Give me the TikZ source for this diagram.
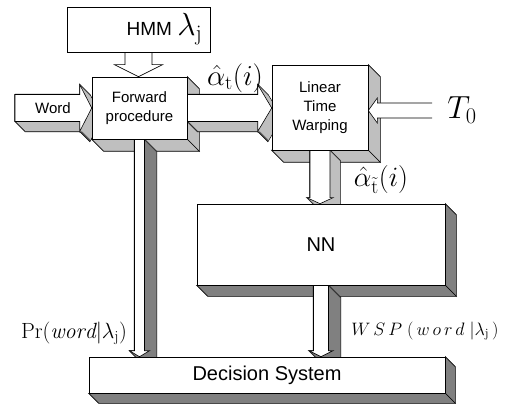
\RequirePackage{fix-cm}
\documentclass[tikz,border=0pt]{standalone}
\usepackage{fontspec}
\setsansfont{Liberation Sans}
\usetikzlibrary{calc}

\pgfdeclarelayer{background}
\pgfsetlayers{background,main}

\definecolor{lite}{gray}{0.75}
\definecolor{dark}{gray}{0.5}

\tikzset{
  blk/.style={draw, fill=white, line width=0.6pt, inner sep=0pt, align=center,
    font=\sffamily\fontsize{15}{19}\selectfont},
  big/.style={font=\sffamily\fontsize{20}{22}\selectfont}
}

% block arrows: from, tip, half shaft, half head, head length
\newcommand{\rightarr}[5]{($(#1)+(0,-#3)$) -- ($(#2)+(-#5,-#3)$) -- ($(#2)+(-#5,-#4)$) -- (#2) -- ($(#2)+(-#5,#4)$) -- ($(#2)+(-#5,#3)$) -- ($(#1)+(0,#3)$) -- cycle}
\newcommand{\downarr}[5]{($(#1)+(-#3,0)$) -- ($(#2)+(-#3,-#5)$) -- ($(#2)+(-#4,-#5)$) -- (#2) -- ($(#2)+(#4,-#5)$) -- ($(#2)+(#3,-#5)$) -- ($(#1)+(#3,0)$) -- cycle}
% extruded arrow: depth, side colour, path
\newcommand{\solid}[3]{%
  \foreach \k in {0,...,#1}{\begin{scope}[transform canvas={shift={(\k,\k)}}]
    \filldraw[black, line width=1.2pt, line join=round] #3;\end{scope}}
  \foreach \k in {0,...,#1}{\begin{scope}[transform canvas={shift={(\k,\k)}}]
    \fill[#2] #3;\end{scope}}
  \filldraw[fill=white, line width=0.6pt] #3;}

\begin{document}
\begin{tikzpicture}[x=1pt,y=-1pt]
\useasboundingbox (0,0) rectangle (515,404);

% blocks
\node[blk, minimum width=143, minimum height=45, font=\sffamily\fontsize{19}{21}\selectfont] (hmm) at (138.5,29.5)
  {\hspace*{52pt}HMM~{\fontsize{32}{34}\selectfont$\lambda_{\mathrm{j}}$}};
\node[blk, minimum width=95, minimum height=62] (fp) at (139.5,108) {Forward\\procedure};
\node[blk, minimum width=96, minimum height=85] (ltw) at (320,107.5) {Linear\\Time\\Warping};
\node[blk, big, minimum width=248, minimum height=81] (nn) at (321,244.5) {NN};
\node[blk, big, minimum width=356, minimum height=36] (ds) at (267,375) {Decision System};

% free ends
\coordinate (wd) at (15,108);
\coordinate (tz) at (432,110.5);

% labels
\node[font=\sffamily\fontsize{15}{17}\selectfont] (wordlab) at (53,108) {Word};
\node[font=\fontsize{29}{31}\selectfont, inner sep=0pt] (alab) at (235,78) {$\hat{\alpha}_{\mathrm{t}}(i)$};
\node[font=\fontsize{28}{30}\selectfont, inner sep=0pt] (blab) at (381,180) {$\hat{\alpha}_{\tilde{\mathrm{t}}}(i)$};
\node[font=\fontsize{32}{34}\selectfont, inner sep=0pt] (tlab) at (462,110) {$T_0$};
\node[font=\fontsize{22}{24}\selectfont, inner sep=0pt] (plab) at (74,333) {$\mathrm{Pr}\Bigl(\mathit{word}\big|\lambda_{\mathrm{j}}\Bigr)$};
\node[font=\fontsize{18}{20}\selectfont, inner sep=0pt] (slab) at (425,331) {$W\,S\,P\;(\,w\,o\,r\,d\;\Big|\lambda_{\mathrm{j}}\,)$};

\begin{pgfonlayer}{background}
% depth faces
\foreach \n/\d/\c in {fp/12/lite, ltw/12/lite, nn/11/dark, ds/10/dark}{
  \filldraw[fill=\c, line width=0.6pt] (\n.north east) -- ++(\d,\d) -- ($(\n.south east)+(\d,\d)$) -- (\n.south east) -- cycle;
  \filldraw[fill=\c, line width=0.6pt] (\n.south west) -- ++(\d,\d) -- ($(\n.south east)+(\d,\d)$) -- (\n.south east) -- cycle;
}
% connectors
\solid{10}{lite}{\rightarr{wd}{fp.west}{13.5}{23.5}{12}}
\solid{10}{lite}{\rightarr{fp.east}{ltw.west|-fp.east}{13.5}{23.5}{14}}
\solid{10}{lite}{\downarr{ltw.south}{ltw.south|-nn.north}{10}{13}{6}}
\solid{12}{dark}{\downarr{fp.south}{fp.south|-ds.north}{5}{10}{6}}
\solid{12}{dark}{\downarr{nn.south}{nn.south|-ds.north}{7.5}{12}{6}}
\filldraw[fill=white, line width=0.6pt] \downarr{hmm.south}{hmm.south|-fp.north}{13.5}{24}{12};
\filldraw[fill=white, line width=0.6pt] ($(tz)+(0,-7.5)$) -- ($(ltw.east|-tz)+(9,-7.5)$) -- ($(ltw.east|-tz)+(9,-12.5)$)
  -- (ltw.east|-tz) -- ($(ltw.east|-tz)+(9,12.5)$) -- ($(ltw.east|-tz)+(9,7.5)$) -- ($(tz)+(0,7.5)$);
\end{pgfonlayer}
\end{tikzpicture}
\end{document}
